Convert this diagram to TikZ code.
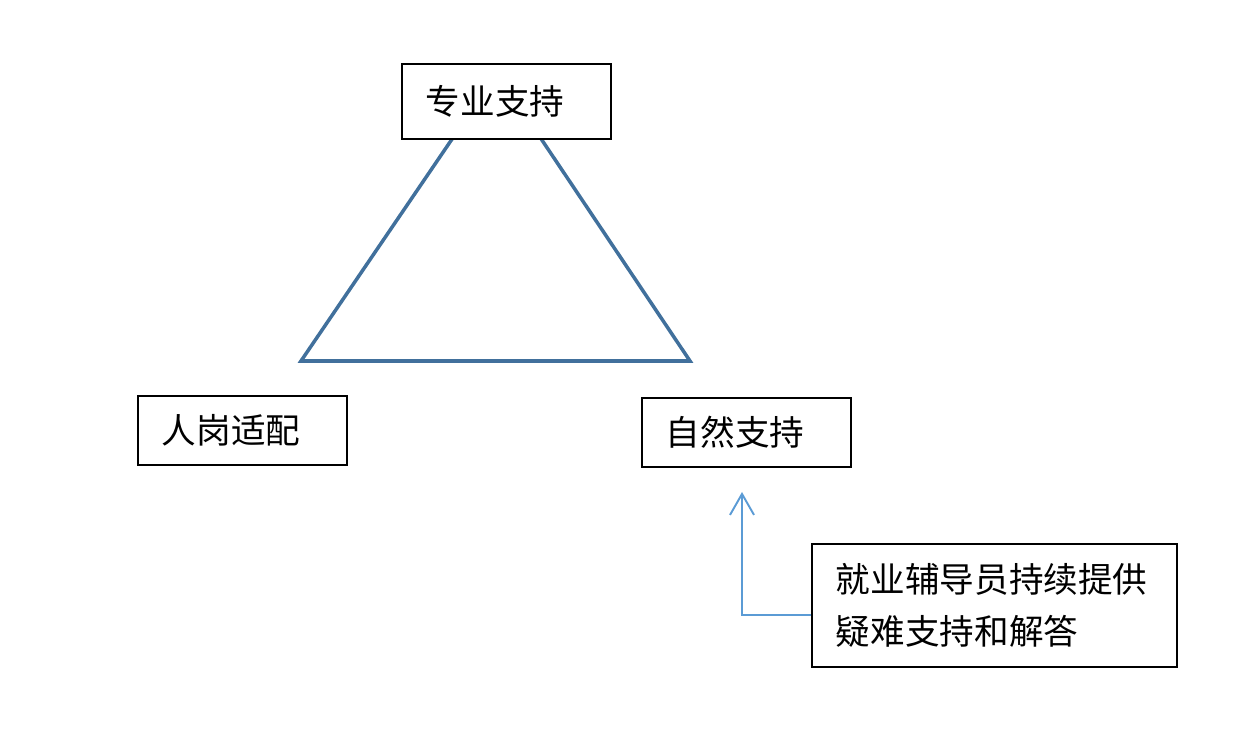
\documentclass[tikz,border=0pt]{standalone}
\usepackage{fontspec}
\setmainfont{Noto Sans CJK SC}
\usetikzlibrary{arrows.meta}
\tikzset{
  box/.style={draw=black, line width=1.1pt, fill=white, rectangle, anchor=north west,
    inner xsep=0.48cm, inner ysep=0pt, align=left,
    font=\fontsize{19.7pt}{29.6pt}\selectfont},
  tri/.style={draw={rgb,255:red,65;green,112;blue,156}, line width=2pt, line join=miter},
  arr/.style={draw={rgb,255:red,91;green,155;blue,213}, line width=1.1pt,
    -{Straight Barb[length=0.42cm,width=0.48cm]}}
}
\begin{document}
\begin{tikzpicture}[x=0.02cm,y=-0.02cm]
\useasboundingbox (0,0) rectangle (1240,732);
\coordinate (apex) at (497,73);
\coordinate (bl) at (301,361);
\coordinate (br) at (690,361);
\draw[tri] (apex) -- (bl) -- (br) -- cycle;
\node[box, text width=3.22cm, minimum height=1.5cm] (zy) at (401,63) {专业支持};
\node[box, text width=3.22cm, minimum height=1.38cm] (rg) at (137,395) {人岗适配};
\node[box, text width=3.22cm, minimum height=1.38cm] (zr) at (641,397) {自然支持};
\node[box, text width=6.34cm, minimum height=2.46cm] (jy) at (811,543) {就业辅导员持续提供\\疑难支持和解答};
\coordinate (tip) at (742,492);
\draw[arr] ([yshift=-0.19cm]jy.west) -| (tip);
\end{tikzpicture}
\end{document}
